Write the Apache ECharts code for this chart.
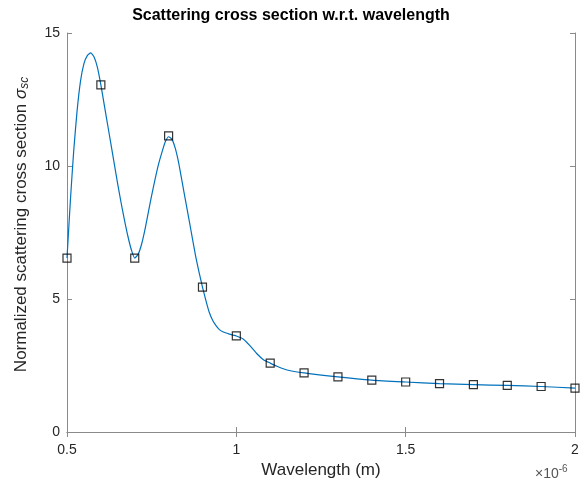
<!DOCTYPE html>
<html>
<head>
    <meta charset="utf-8"/>
    <title>ECharts</title>
    <script src="https://cdn.jsdelivr.net/npm/echarts@6/dist/echarts.min.js"></script>
</head>
<body style="margin:0">
<div id="main" style="width: 587px;height:486px;"></div>
<script type="text/javascript">
    // wavelength in units of 1e-6 m
    var markerX = [0.5, 0.6, 0.7, 0.8, 0.9, 1.0, 1.1, 1.2, 1.3, 1.4, 1.5, 1.6, 1.7, 1.8, 1.9, 2.0];
    var markerY = [6.54, 13.05, 6.54, 11.13, 5.45, 3.61, 2.59, 2.22, 2.07, 1.95, 1.88, 1.82, 1.78, 1.75, 1.71, 1.65];

    // fine interpolated curve
    var curveX = [0.50, 0.51, 0.52, 0.53, 0.54, 0.55, 0.56, 0.57, 0.58, 0.59,
                  0.60, 0.61, 0.62, 0.63, 0.64, 0.65, 0.66, 0.67, 0.68, 0.69,
                  0.70, 0.71, 0.72, 0.73, 0.74, 0.75, 0.76, 0.77, 0.78, 0.79,
                  0.80, 0.81, 0.82, 0.83, 0.84, 0.85, 0.86, 0.87, 0.88, 0.89,
                  0.90, 0.91, 0.92, 0.93, 0.94, 0.95, 0.96, 0.97, 0.98, 0.99,
                  1.00, 1.02, 1.04, 1.06, 1.08, 1.10, 1.12, 1.15, 1.20,
                  1.30, 1.40, 1.50, 1.60, 1.70, 1.80, 1.90, 2.00];
    var curveY = [6.54, 8.7, 10.6, 12.1, 13.2, 13.85, 14.15, 14.25, 14.1, 13.7,
                  13.05, 12.3, 11.55, 10.8, 10.05, 9.3, 8.6, 7.95, 7.35, 6.85,
                  6.54, 6.68, 7.05, 7.6, 8.25, 8.9, 9.5, 10.05, 10.5, 10.9,
                  11.1, 11.0, 10.65, 10.1, 9.4, 8.7, 8.0, 7.3, 6.6, 6.0,
                  5.45, 4.95, 4.5, 4.2, 4.0, 3.85, 3.77, 3.72, 3.68, 3.64,
                  3.61, 3.5, 3.25, 2.95, 2.72, 2.59, 2.47, 2.33, 2.22,
                  2.07, 1.95, 1.88, 1.82, 1.78, 1.75, 1.71, 1.65];

    var xTicks = ['0.5', '1', '1.5', '2'];
    var yTicks = ['0', '5', '10', '15'];

    var curve = curveX.map(function (x, i) { return [x, curveY[i]]; });
    var markers = markerX.map(function (x, i) { return [x, markerY[i]]; });

    var boxColor = '#8a8a8a';
    var textColor = '#262626';
    var font = 'Liberation Sans, Arial, sans-serif';

    var myChart = echarts.init(document.getElementById('main'));
    var option = {
        animation: false,
        backgroundColor: '#fff',
        title: {
            text: 'Scattering cross section w.r.t. wavelength',
            left: 286, top: 3, textAlign: 'center',
            textStyle: {fontFamily: font, fontSize: 16, fontWeight: 'bold', color: '#000'}
        },
        grid: {left: 67, right: 12, top: 33, bottom: 54},
        xAxis: [{
            type: 'value', min: 0.5, max: 2, interval: 0.5,
            name: 'Wavelength (m)', nameLocation: 'middle', nameGap: 29,
            nameTextStyle: {fontFamily: font, fontSize: 17, color: textColor},
            axisLine: {lineStyle: {color: boxColor}},
            axisTick: {inside: true, length: 5, lineStyle: {color: boxColor}},
            axisLabel: {fontFamily: font, fontSize: 14, color: textColor, margin: 11,
                formatter: function (v) { return xTicks[Math.round((v - 0.5) / 0.5)]; }},
            splitLine: {show: false}
        }, {
            type: 'value', min: 0.5, max: 2, interval: 0.5, position: 'top',
            axisLine: {lineStyle: {color: boxColor}},
            axisTick: {inside: true, length: 5, lineStyle: {color: boxColor}},
            axisLabel: {show: false}, splitLine: {show: false}
        }],
        yAxis: [{
            type: 'value', min: 0, max: 15, interval: 5,
            name: '{n|Normalized scattering cross section }{g|\u03c3}{s|sc}',
            nameLocation: 'middle', nameGap: 36, nameRotate: 90,
            nameTextStyle: {
                padding: [0, 0, 0, 16],
                rich: {
                    n: {fontFamily: font, fontSize: 17, color: textColor},
                    g: {fontFamily: font, fontSize: 17, fontStyle: 'italic', color: textColor},
                    s: {fontFamily: font, fontSize: 12, fontStyle: 'italic', color: textColor, verticalAlign: 'bottom', padding: [8, 0, 0, 0]}
                }
            },
            axisLine: {show: true, lineStyle: {color: boxColor}},
            axisTick: {show: true, inside: true, length: 5, lineStyle: {color: boxColor}},
            axisLabel: {fontFamily: font, fontSize: 14, color: textColor, margin: 7,
                formatter: function (v) { return yTicks[Math.round(v / 5)]; }},
            splitLine: {show: false}
        }, {
            type: 'value', min: 0, max: 15, interval: 5, position: 'right',
            axisLine: {show: true, lineStyle: {color: boxColor}},
            axisTick: {show: true, inside: true, length: 5, lineStyle: {color: boxColor}},
            axisLabel: {show: false}, splitLine: {show: false}
        }],
        graphic: [{
            type: 'text', left: 535, top: 464,
            style: {
                text: '{a|\u00d710}{b|-6}',
                rich: {
                    a: {fontFamily: font, fontSize: 14, fill: '#555'},
                    b: {fontFamily: font, fontSize: 10, fill: '#555', verticalAlign: 'top', padding: [0, 0, 10, 0]}
                }
            }
        }],
        series: [{
            type: 'line', data: curve, smooth: 0.2, symbol: 'none',
            lineStyle: {color: '#0072BD', width: 1.2}, z: 2
        }, {
            type: 'scatter', data: markers, symbol: 'rect', symbolSize: 8,
            itemStyle: {color: 'rgba(0,0,0,0)', borderColor: '#000', borderWidth: 1.2}, z: 3
        }]
    };
    myChart.setOption(option);
</script>
</body>
</html>
